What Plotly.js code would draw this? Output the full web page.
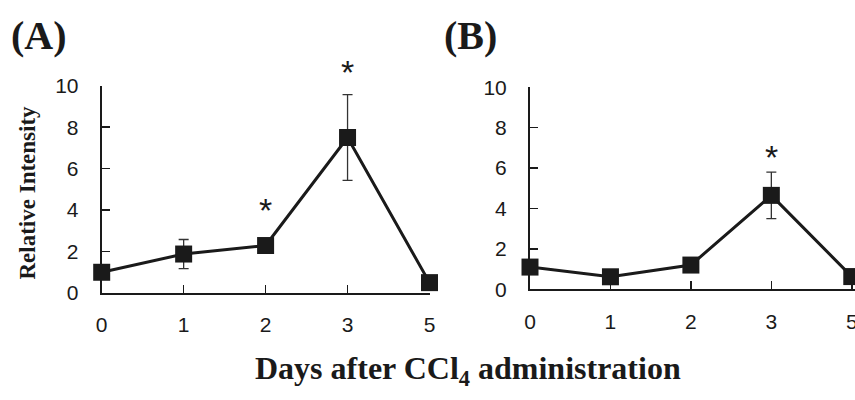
<!DOCTYPE html>
<html><head><meta charset="utf-8">
<script src="https://cdn.plot.ly/plotly-3.0.1.min.js"></script>
<style>html,body{margin:0;padding:0;background:#fff;}#chart{width:855px;height:400px;}</style>
</head><body><div id="chart"></div>
<script>
// ---- data ----
const days = ['0', '1', '2', '3', '5'];
const intensityA = [1.0, 1.88, 2.29, 7.5, 0.5];
const errorA = [0, 0.7, 0, 2.07, 0];
const intensityB = [1.1, 0.62, 1.2, 4.65, 0.63];
const errorB = [0, 0, 0, 1.15, 0];
const yTicks = [0, 2, 4, 6, 8, 10];
const sigDaysA = ['2', '3'];
const sigYA = [4.0, 10.65];
const sigDaysB = ['3'];
const sigYB = [6.55];

const INK = '#1a1a1a';
const W = 855, H = 400;
const tickFont = {family: 'Liberation Sans, Arial, sans-serif', size: 21, color: INK};
const serif = 'Liberation Serif, Times New Roman, serif';
const domYA = [1 - 293 / H, 1 - 85.7 / H];
const domYB = [1 - 289.3 / H, 1 - 87.3 / H];

function trace(y, err, xa, ya) {
  return {
    type: 'scatter', mode: 'lines+markers', x: days, y: y, xaxis: xa, yaxis: ya,
    line: {color: INK, width: 3},
    marker: {symbol: 'square', size: 17, color: INK},
    error_y: {type: 'data', array: err, visible: true, color: '#333', thickness: 1.3, width: 5},
    cliponaxis: false, showlegend: false, hoverinfo: 'x+y'
  };
}

function xax(d, r, anchor) {
  return {type: 'category', domain: d, range: r, anchor: anchor, showline: true, linewidth: 2,
    linecolor: INK, ticks: 'inside', ticklen: 8, tickwidth: 1.5, tickcolor: INK,
    showgrid: false, zeroline: false, tickfont: tickFont, ticklabelstandoff: 12, fixedrange: true};
}
function yax(d, anchor) {
  return {domain: d, range: [0, 10], anchor: anchor, tickvals: yTicks, showline: true, linewidth: 2,
    linecolor: INK, ticks: 'inside', ticklen: 8, tickwidth: 1.5, tickcolor: INK,
    showgrid: false, zeroline: false, tickfont: tickFont, ticklabelstandoff: 17, fixedrange: true};
}

function paperY(dom, v) { return dom[0] + (v / 10) * (dom[1] - dom[0]); }
function star(xref, x, y) {
  return {xref: xref, yref: 'paper', x: x, y: y, text: '*', xanchor: 'center', yanchor: 'middle',
    showarrow: false, font: {family: 'Liberation Sans, Arial', size: 34, color: INK}};
}
function label(x, y, text, size, extra) {
  return Object.assign({xref: 'paper', yref: 'paper', x: x / W, y: 1 - y / H, text: text,
    xanchor: 'center', yanchor: 'middle', showarrow: false,
    font: {family: serif, size: size, color: INK}}, extra || {});
}

const annotations = [];
sigDaysA.forEach((d, i) => annotations.push(star('x', d, paperY(domYA, sigYA[i]))));
sigDaysB.forEach((d, i) => annotations.push(star('x2', d, paperY(domYB, sigYB[i]))));
annotations.push(label(39, 36, '<b>(A)</b>', 40));
annotations.push(label(470, 36, '<b>(B)</b>', 40));
annotations.push(label(27.5, 193, '<b>Relative Intensity</b>', 23, {textangle: -90}));
annotations.push(label(467.5, 370, '<b>Days after CCl<sub>4</sub> administration</b>', 32));

const layout = {
  width: W, height: H, margin: {l: 0, r: 0, t: 0, b: 0},
  paper_bgcolor: '#fff', plot_bgcolor: '#fff',
  xaxis: xax([101.7 / W, 429.5 / W], [0, 4], 'y'),
  yaxis: yax(domYA, 'x'),
  xaxis2: xax([530 / W, 1], [0, 4.04], 'y2'),
  yaxis2: yax(domYB, 'x2'),
  annotations: annotations
};

Plotly.newPlot('chart', [trace(intensityA, errorA, 'x', 'y'), trace(intensityB, errorB, 'x2', 'y2')],
  layout, {displayModeBar: false, staticPlot: true});
</script></body></html>
